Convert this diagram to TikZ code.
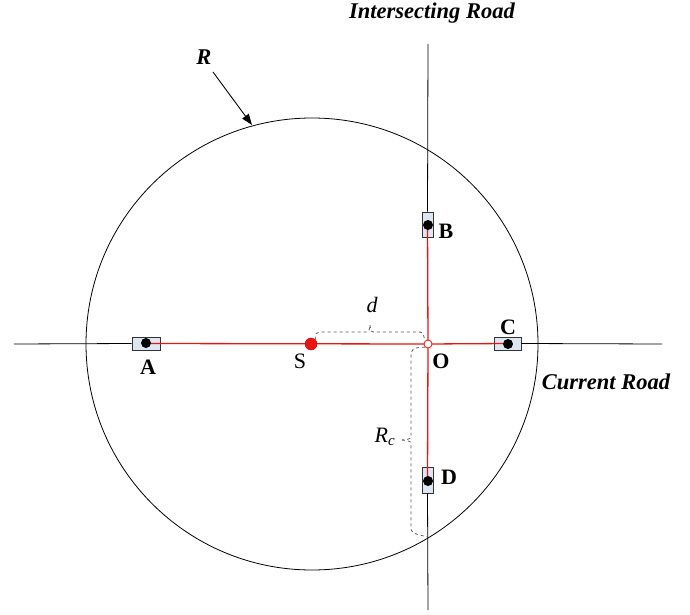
\documentclass[tikz,border=0pt]{standalone}
\usepackage{fontspec}
\setmainfont{Liberation Serif}
\usetikzlibrary{arrows.meta}
\definecolor{carfill}{RGB}{222,230,242}
\definecolor{redc}{RGB}{235,20,20}
\begin{document}
\begin{tikzpicture}[x=1pt,y=-1pt,
  road/.style={black, line width=0.8pt},
  redline/.style={redc, line width=1.3pt},
  car/.style={draw=black!80, fill=carfill, line width=0.7pt, inner sep=0pt},
  dotn/.style={circle, fill=black, inner sep=0pt, minimum size=10pt},
  brace/.style={dashed, black!65, line width=0.8pt},
  lab/.style={font=\fontsize{22}{26}\selectfont\bfseries},
  ital/.style={font=\fontsize{22.5}{26}\selectfont\bfseries\itshape}]
\useasboundingbox (0,0) rectangle (690,615);
% circle
\node[circle, draw, line width=0.8pt, minimum size=452pt, inner sep=0pt] (circ) at (312,344) {};
% cars
\node[car, minimum width=28pt, minimum height=13pt] (A) at (146,343.5) {};
\node[car, minimum width=27pt, minimum height=13pt] (C) at (507.5,343.5) {};
\node[car, minimum width=11pt, minimum height=25pt] (B) at (427.5,224.5) {};
\node[car, minimum width=11pt, minimum height=26pt] (D) at (427.5,480) {};
% roads
\coordinate (hl) at (14,344); \coordinate (hr) at (662,344);
\coordinate (vt) at (428,44); \coordinate (vb) at (428,610);
\draw[road] (hl) -- (A.west);
\draw[road] (C.east) -- (hr);
\draw[road] (vt) -- (B.north);
\draw[road] (D.south) -- (vb);
% points
\coordinate (O) at (428,344);
\coordinate (S) at (311,344);
% red lines
\draw[redline] (A.center) -- (O) -- (C.center);
\draw[redline] (B.center) -- (O) -- (D.center);
\node[dotn] (Ad) at (146,343) {};
\node[dotn] (Cd) at (508,344) {};
\node[dotn] (Bd) at (428,225) {};
\node[dotn] (Dd) at (428,481) {};
\node[circle, fill=redc, draw=red!70!black, inner sep=0pt, minimum size=12pt] (Sd) at (S) {};
\node[circle, draw=redc, fill=white, inner sep=0pt, minimum size=8pt, line width=0.8pt] (Od) at (O) {};
% labels
\node[lab] (lA) at (148,367) {A};
\node[lab] (lB) at (446,231) {B};
\node[lab] (lC) at (508,327) {C};
\node[lab] (lD) at (449,477) {D};
\node[lab] (lO) at (441,361) {O};
\node[font=\fontsize{22}{26}\selectfont] (lS) at (300,361) {S};
% brace d
\coordinate (dtip) at (370,325);
\draw[brace] (Sd.north east) .. controls (315,333) .. (322,332) -- (364,332) .. controls (369,332) .. (dtip);
\draw[brace] (dtip) .. controls (371,332) .. (376,332) -- (417,332) .. controls (423,332) .. (Od.north west);
\node[font=\fontsize{22}{26}\selectfont\itshape] (ld) at (372,305) {d};
% brace Rc
\coordinate (rtip) at (402,440);
\coordinate (cross) at (428,537);
\draw[brace] (Od.south west) .. controls (412,348) .. (411,356) -- (411,434) .. controls (411,439) .. (rtip);
\draw[brace] (rtip) .. controls (411,441) .. (411,447) -- (411,526) .. controls (411,533) .. (cross);
\node[font=\fontsize{22}{26}\selectfont\itshape] (lRc) at (385,437) {R\textsubscript{\fontsize{15}{17}\selectfont c}};
% R arrow
\node[ital] (lR) at (204,57) {R};
\coordinate (Rtip) at (252,125);
\draw[-{Triangle[length=11pt,width=8pt]}, line width=0.9pt] (213,72) -- (Rtip);
% road names
\node[ital] (IR) at (432,13) {Intersecting Road};
\node[ital] (CR) at (606,382) {Current Road};
\end{tikzpicture}
\end{document}
